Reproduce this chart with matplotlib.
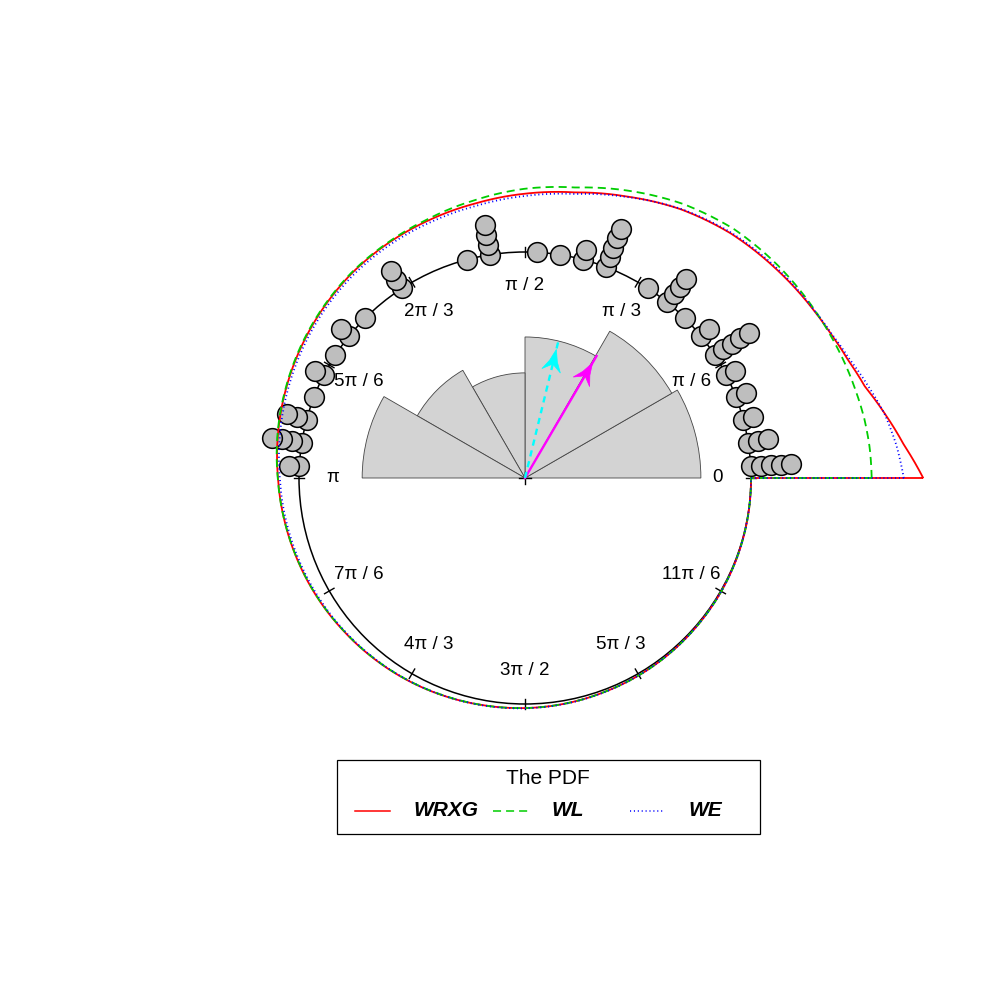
import numpy as np
import matplotlib
matplotlib.use('Agg')
import matplotlib.pyplot as plt
from matplotlib.patches import Circle, Wedge, Polygon, Rectangle, PathPatch
from matplotlib.path import Path

plt.rcParams['font.family'] = ['Liberation Sans', 'DejaVu Sans']
plt.rcParams['lines.scale_dashes'] = False

# stacked observations: bin centre (degrees) and how many points sit in that bin
bin_deg = [3, 9, 15, 21, 27, 33, 39, 45, 51, 57, 69, 75, 81, 87,
           99, 105, 123, 135, 141, 147, 153, 159, 165, 171, 177]
bin_count = [5, 3, 2, 2, 2, 5, 2, 1, 4, 1, 5, 2, 1, 1,
             4, 1, 3, 1, 2, 1, 2, 1, 3, 4, 2]

# rose diagram sectors, pi/6 wide
rose_edges_deg = [0, 30, 60, 90, 120, 150, 180, 210, 240, 270, 300, 330, 360]

# fitted densities drawn as radius 1 + pdf
curve_deg = [0, 5, 10, 15, 20, 25, 30, 40, 50, 60, 70, 80, 90, 100, 110, 120,
             130, 140, 150, 160, 170, 180, 190, 200, 210, 220, 230, 240, 250,
             260, 270, 280, 290, 300, 310, 320, 330, 340, 350, 360]
wrxg_r = [1.762, 1.683, 1.619, 1.558, 1.522, 1.497, 1.478, 1.445, 1.414, 1.374,
          1.325, 1.283, 1.258, 1.235, 1.218, 1.203, 1.187, 1.167, 1.147, 1.128,
          1.110, 1.093, 1.081, 1.070, 1.060, 1.050, 1.042, 1.035, 1.028, 1.022,
          1.018, 1.014, 1.010, 1.008, 1.006, 1.004, 1.003, 1.002, 1.001, 1.000]
wl_r = [1.534, 1.531, 1.524, 1.513, 1.503, 1.492, 1.482, 1.462, 1.438, 1.400,
        1.352, 1.305, 1.280, 1.250, 1.225, 1.206, 1.190, 1.170, 1.150, 1.130,
        1.112, 1.094, 1.081, 1.069, 1.059, 1.049, 1.041, 1.034, 1.027, 1.022,
        1.018, 1.014, 1.010, 1.008, 1.006, 1.004, 1.003, 1.002, 1.001, 1.000]
we_r = [1.676, 1.650, 1.617, 1.572, 1.530, 1.500, 1.480, 1.450, 1.418, 1.376,
        1.323, 1.276, 1.248, 1.224, 1.207, 1.193, 1.177, 1.158, 1.138, 1.119,
        1.101, 1.085, 1.074, 1.064, 1.055, 1.047, 1.040, 1.034, 1.028, 1.023,
        1.019, 1.015, 1.011, 1.008, 1.006, 1.004, 1.003, 1.002, 1.001, 1.000]

# mean direction arrows
arrow_deg = [59.6, 76.3]
arrow_len = [0.626, 0.621]

tick_labels = ['0', 'π / 6', 'π / 3', 'π / 2', '2π / 3', '5π / 6', 'π',
               '7π / 6', '4π / 3', '3π / 2', '5π / 3', '11π / 6']
legend_title = 'The PDF'
legend_labels = ['WRXG', 'WL', 'WE']

PX = 226.0       # pixels per unit radius
CX, CY = 525, 478
W_PX, H_PX = 990, 988

fig = plt.figure(figsize=(9.9, 9.88), dpi=100)
ax = fig.add_axes([0, 0, 1, 1])
ax.set_xlim(-CX / PX, (W_PX - CX) / PX)
ax.set_ylim(-(H_PX - CY) / PX, CY / PX)
ax.axis('off')

# polar overlay with the same centre and scale, for the density curves
RMAX = 2.0
half = RMAX * PX
pax = fig.add_axes([(CX - half) / W_PX, (H_PX - CY - half) / H_PX,
                    2 * half / W_PX, 2 * half / H_PX], projection='polar')
pax.set_rlim(0, RMAX)
pax.axis('off')
pax.patch.set_alpha(0)


def px(x, y):
    return (x - CX) / PX, (CY - y) / PX


# rose diagram from the binned points
counts = np.zeros(len(rose_edges_deg) - 1)
for d, c in zip(bin_deg, bin_count):
    counts[np.searchsorted(rose_edges_deg, d) - 1] += c
for i, c in enumerate(counts):
    if c > 0:
        ax.add_patch(Wedge((0, 0), np.sqrt(c) * 0.208, rose_edges_deg[i], rose_edges_deg[i + 1],
                           facecolor='#d3d3d3', edgecolor='#444444', lw=0.6, zorder=1))

# unit circle, ticks, labels
ax.add_patch(Circle((0, 0), 1, fill=False, edgecolor='black', lw=1.1, zorder=2))
for k, lab in enumerate(tick_labels):
    a = k * np.pi / 6
    ax.plot([0.976 * np.cos(a), 1.024 * np.cos(a)], [0.976 * np.sin(a), 1.024 * np.sin(a)],
            color='black', lw=1.0, zorder=2)
    ax.text(0.85 * np.cos(a), 0.85 * np.sin(a), lab, ha='center', va='center', fontsize=13.5)
ax.plot([-6 / PX, 6 / PX], [0, 0], color='black', lw=1.0, zorder=2)
ax.plot([0, 0], [-6 / PX, 6 / PX], color='black', lw=1.0, zorder=2)

# stacked points
step = 10.2 / PX
for d, c in zip(bin_deg, bin_count):
    a = np.deg2rad(d)
    for k in range(c):
        r = 1 + k * step
        ax.plot(r * np.cos(a), r * np.sin(a), 'o', ms=14.2, mfc='#bebebe', mec='black',
                mew=1.1, zorder=3)

# arrows
arrow_col = ['magenta', 'cyan']
arrow_ls = ['-', (0, (4.5, 3.5))]
for d, l, col, ls in zip(arrow_deg, arrow_len, arrow_col, arrow_ls):
    a = np.deg2rad(d)
    u = np.array([np.cos(a), np.sin(a)])
    n = np.array([-np.sin(a), np.cos(a)])
    ax.plot([0, l * u[0]], [0, l * u[1]], color=col, lw=1.7, linestyle=ls, zorder=4)
    tip = u * (l - 8 / PX)
    L, W, nd = 22 / PX, 9.5 / PX, 7 / PX
    pts = [tip,
           tip - u * L * 0.55 + n * W * 0.42,
           tip - u * L + n * W,
           tip - u * (L - nd),
           tip - u * L - n * W,
           tip - u * L * 0.55 - n * W * 0.42]
    ax.add_patch(Polygon(pts, closed=True, facecolor=col, edgecolor=col, lw=0.5, zorder=4))

# density curves, drawn in polar space so the segments follow the circle
styles = [('red', '-'), ('#00cd00', (0, (5.8, 3.6))), ('blue', (0, (0.8, 2.0)))]
th = np.deg2rad(curve_deg)
for rr, (col, ls) in zip([wrxg_r, wl_r, we_r], styles):
    verts = np.column_stack([np.append(th, 2 * np.pi), np.append(rr, rr[0])])
    path = Path(verts, _interpolation_steps=40)
    pax.add_patch(PathPatch(path, fill=False, edgecolor=col, lw=1.3, linestyle=ls))

# legend box
x0, y0 = px(337, 834)
ax.add_patch(Rectangle((x0, y0), 423 / PX, 74 / PX, fill=False, edgecolor='black', lw=0.9))
ax.text(*px(548, 779), legend_title, ha='center', va='center', fontsize=15)
hx = [355, 493, 630]
for h, lab, (col, ls) in zip(hx, legend_labels, styles):
    xa, ya = px(h, 811)
    xb, _ = px(h + 35, 811)
    ax.plot([xa, xb], [ya, ya], color=col, lw=1.1, linestyle=ls)
    ax.text(*px(h + 58, 811), lab, ha='left', va='center', fontsize=15,
            fontweight='bold', fontstyle='italic')

fig.savefig('out.png', dpi=100)
